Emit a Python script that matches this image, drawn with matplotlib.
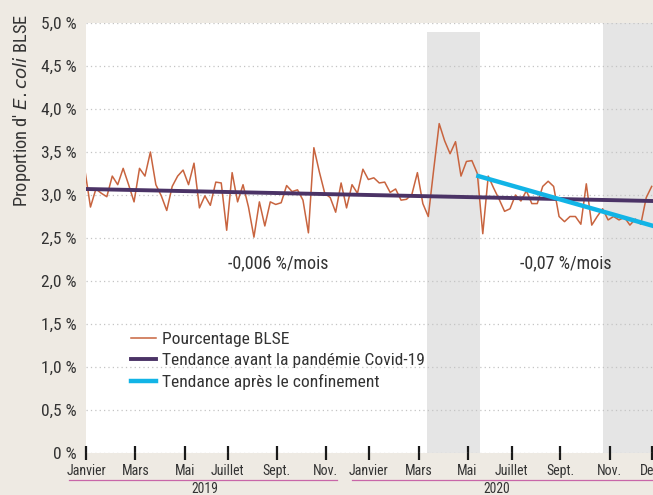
import numpy as np
import matplotlib.pyplot as plt
import matplotlib as mpl
from matplotlib import font_manager as fm
from matplotlib.lines import Line2D

# Police: une police étroite si elle existe, sinon DejaVu Sans
names = {f.name for f in fm.fontManager.ttflist}
FONT = 'DejaVu Sans'
for cand in ['Roboto Condensed', 'Liberation Sans Narrow', 'Noto Sans Condensed',
             'DejaVu Sans Condensed', 'Open Sans Condensed']:
    if cand in names:
        FONT = cand
        break
mpl.rcParams['font.family'] = [FONT, 'DejaVu Sans']

###################### données ##############################
# pourcentage hebdomadaire de BLSE (semaine 0 = janvier 2019)
blse = [3.28, 2.86, 3.07, 3.02, 2.98, 3.22, 3.12, 3.31, 3.12, 2.92,
        3.31, 3.22, 3.50, 3.12, 2.99, 2.82, 3.10, 3.22, 3.29, 3.12,
        3.37, 2.85, 2.99, 2.88, 3.15, 3.14, 2.59, 3.26, 2.92, 3.12,
        2.86, 2.51, 2.92, 2.64, 2.92, 2.89, 2.91, 3.11, 3.04, 3.06,
        2.94, 2.56, 3.55, 3.27, 3.02, 2.97, 2.80, 3.14, 2.85, 3.12,
        3.02, 3.30, 3.18, 3.20, 3.14, 3.15, 3.03, 3.07, 2.94, 2.95,
        3.01, 3.26, 2.90, 2.75, 3.30, 3.83, 3.63, 3.48, 3.62, 3.22,
        3.39, 3.40, 3.25, 2.55, 3.22, 3.08, 2.95, 2.81, 2.84, 3.00,
        2.93, 3.05, 2.90, 2.90, 3.10, 3.16, 3.10, 2.75, 2.69, 2.75,
        2.75, 2.66, 3.13, 2.65, 2.75, 2.84, 2.71, 2.75, 2.71, 2.74,
        2.65, 2.72, 2.66, 2.97, 3.10]
weeks = np.arange(len(blse))

trend_before_x = [0.0, 104.3]
trend_before_y = [3.07, 2.93]
trend_after_x = [72.2, 104.3]
trend_after_y = [3.22, 2.64]

# périodes de confinement (début, fin, hauteur)
confin = [(62.8, 72.5, 4.9), (95.1, 110.0, 5.0)]

month_pos = [0.24, 9.25, 18.3, 26.2, 35.2, 44.2, 52.1, 61.3, 70.2, 78.3,
             87.2, 96.3, 104.05]
month_lab = ['Janvier', 'Mars', 'Mai', 'Juillet', 'Sept.', 'Nov.',
             'Janvier', 'Mars', 'Mai', 'Juillet', 'Sept.', 'Nov.', 'Dec.']
yticks = np.arange(0, 5.01, 0.5)
ylab = ['0 %'] + ['{:.1f} %'.format(v).replace('.', ',') for v in yticks[1:]]

###################### figure ##################################
W, H = 653, 495
bg = '#eeeae3'
txt = '#333333'
fig = plt.figure(figsize=(W/100, H/100), dpi=100, facecolor=bg)
ax = fig.add_axes([86/W, 42/H, (W-86)/W, 430/H])
ax.set_facecolor('white')

for x0, x1, top in confin:
    ax.axvspan(x0, x1, ymin=0, ymax=top/5.0, color='#e5e5e5', lw=0, zorder=0)

ax.plot(weeks, blse, color='#c8643f', lw=1.1, zorder=3,
        label='Pourcentage BLSE')
ax.plot(trend_before_x, trend_before_y, color='#4b3366', lw=2.8, zorder=4,
        label='Tendance avant la pandémie Covid-19')
ax.plot(trend_after_x, trend_after_y, color='#12b4e6', lw=3.2, zorder=5,
        label='Tendance après le confinement')

ax.set_xlim(0.18, 104.24)
ax.set_ylim(0, 5)
ax.set_yticks(yticks)
ax.set_yticklabels(ylab)
ax.yaxis.grid(True, linestyle=(0, (1, 2.5)), color='#c4c4c4', lw=0.9)
ax.set_axisbelow(True)
for s in ax.spines.values():
    s.set_visible(False)
ax.tick_params(axis='y', length=0, pad=6.5, labelsize=12.5, labelcolor=txt)
ax.set_xticks(month_pos)
ax.set_xticklabels(month_lab)
ax.tick_params(axis='x', direction='inout', length=10, width=1.6,
               color='#1a1a1a', pad=3, labelsize=10, labelcolor=txt)

ax.text(35.5, 2.21, '-0,006 %/mois', fontsize=13, color=txt,
        ha='center', va='center')
ax.text(88.3, 2.21, '-0,07 %/mois', fontsize=13, color=txt,
        ha='center', va='center')

leg = ax.legend(loc='upper left', bbox_to_anchor=(131/W, (H-332)/H),
                bbox_transform=fig.transFigure, frameon=False, fontsize=12.6,
                handlelength=1.43, handletextpad=0.37, labelspacing=0.32,
                borderpad=0, borderaxespad=0)
for t in leg.get_texts():
    t.set_color(txt)

# titre de l'axe y
fig.text(22/W, (H-111)/H, "Proportion d' $\\it{E. coli}$ BLSE", rotation=90,
         ha='center', va='center', fontsize=13.2, color=txt)

# années sous l'axe
fig.add_artist(Line2D([69/W, 337/W], [(H-480)/H]*2, color='#c866a8', lw=0.9))
fig.add_artist(Line2D([352/W, 1.0], [(H-480)/H]*2, color='#c866a8', lw=0.9))
fig.text(205/W, (H-489)/H, '2019', ha='center', va='center', fontsize=9.8,
         color=txt)
fig.text(497/W, (H-489)/H, '2020', ha='center', va='center', fontsize=9.8,
         color=txt)

fig.savefig('out.png', dpi=100, facecolor=bg)
